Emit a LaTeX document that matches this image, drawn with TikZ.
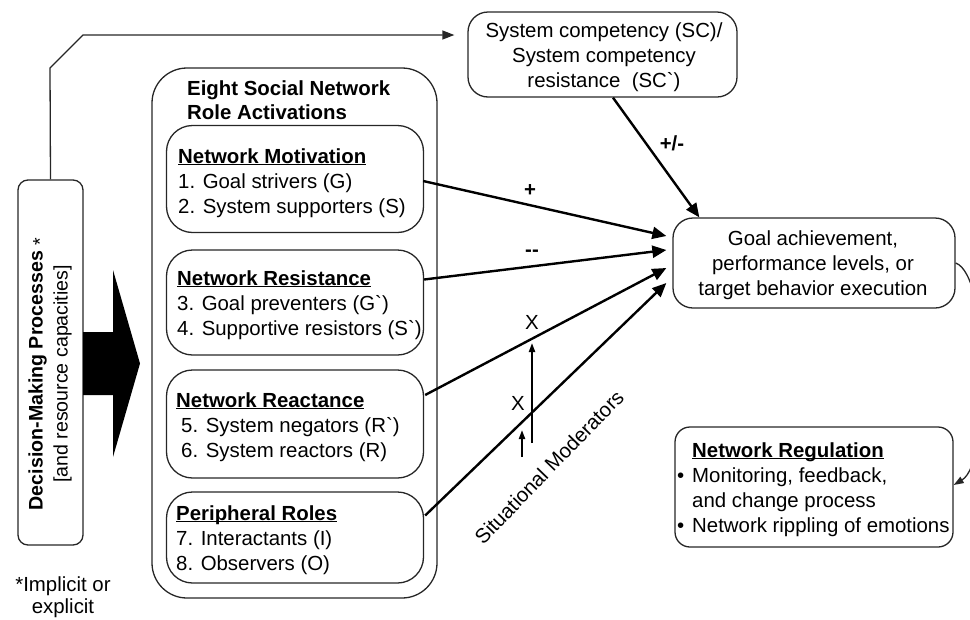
\documentclass[tikz,border=0pt]{standalone}
\usepackage{fontspec}
\setmainfont{Liberation Sans}
\usetikzlibrary{arrows.meta,calc}
\newcommand\myul[1]{\setbox0\hbox{#1}\rlap{\rule[-2.2pt]{\wd0}{1.3pt}}\box0}
\begin{document}
\begin{tikzpicture}[x=1pt,y=-1pt,
  font=\fontsize{20.4}{25}\selectfont,
  box/.style={draw=black!85, line width=1.3pt, inner sep=0pt},
  txt/.style={inner sep=0pt, align=left},
  main/.style={line width=2.4pt, -{Triangle[length=14pt,width=12pt]}},
  modarr/.style={line width=2pt, -{Triangle[length=9pt,width=6pt]}},
  thinline/.style={line width=1.3pt, draw=black!85},
  lbl/.style={font=\fontsize{20.4}{25}\selectfont\bfseries, inner sep=0pt},
]
\useasboundingbox (0,0) rectangle (970,619);

% outer container
\node[box, rounded corners=35pt, minimum width=285pt, minimum height=530pt] (outer) at (294.5,333) {};
\node[txt, anchor=west, font=\fontsize{20.4}{24}\selectfont\bfseries] (title) at (187,100.5) {Eight Social Network\\Role Activations};

% role boxes
\node[box, rounded corners=26pt, minimum width=257pt, minimum height=107pt] (b1) at (295,179) {};
\node[box, rounded corners=26pt, minimum width=257pt, minimum height=105pt] (b2) at (295,302.5) {};
\node[box, rounded corners=26pt, minimum width=257pt, minimum height=108pt] (b3) at (295,424) {};
\node[box, rounded corners=26pt, minimum width=257pt, minimum height=91pt] (b4) at (295,537.5) {};

\node[txt, anchor=west] (b1t) at (178,183) {\textbf{\myul{Network Motivation}}\\1. Goal strivers (G)\\2. System supporters (S)};
\node[txt, anchor=west] (b2t) at (177,305) {\textbf{\myul{Network Resistance}}\\3. Goal preventers (G\textasciigrave)\\4. Supportive resistors (S\textasciigrave)};
\node[txt, anchor=west] (b3t) at (176,427) {\textbf{\myul{Network Reactance}}\\\hspace*{5pt}5. System negators (R\textasciigrave)\\\hspace*{5pt}6. System reactors (R)};
\node[txt, anchor=west] (b4t) at (176,540) {\textbf{\myul{Peripheral Roles}}\\7. Interactants (I)\\8. Observers (O)};

% decision box
\node[box, rounded corners=10pt, minimum width=65pt, minimum height=365pt] (dec) at (50.5,362.5) {};
\node[txt, align=center, rotate=90, font=\fontsize{19.6}{25}\selectfont] (dect) at (50,374) {\textbf{Decision-Making Processes} \raisebox{-4pt}{*}\\{}[and resource capacities]};
\node[txt, align=center, font=\fontsize{20.4}{22}\selectfont] (foot) at (63,597) {*Implicit or\\explicit};

% big arrow
\fill[black] (83,332) -- (113,332) -- (113,270) -- (140,363.5) -- (113,457) -- (113,395) -- (83,395) -- cycle;

% system competency
\node[box, rounded corners=20pt, minimum width=269pt, minimum height=85pt] (sc) at (602.5,54.5) {};
\node[txt, align=center] (sct) at (604,57) {System competency (SC)/\\System competency\\resistance\ \ (SC\textasciigrave)};

% goal box
\node[box, rounded corners=20pt, minimum width=282pt, minimum height=90pt] (goal) at (814,263) {};
\node[txt, align=center] (goalt) at (813,265) {Goal achievement,\\performance levels, or\\target behavior execution};

% network regulation
\node[box, rounded corners=15pt, minimum width=278pt, minimum height=120pt] (reg) at (814,487) {};
\node[txt, anchor=west] (regt) at (677,489.5) {\hspace*{15pt}\textbf{\myul{Network Regulation}}\\\makebox[15pt][l]{\textbullet}Monitoring, feedback,\\\hspace*{15pt}and change process\\\makebox[15pt][l]{\textbullet}Network rippling of emotions};

% top connector
\coordinate (topc) at ($(sc.west)+(-13,-19.5)$);
\draw[thinline, -{Triangle[length=12pt,width=9pt]}] (dec.north) -- (50,68) -- (83,35) -- (topc);

% main arrows
\draw[main] ($(sc.south)+(10.5,0)$) -- ($(goal.north west)+(27,0)$);
\node[lbl] (lpm) at (672,143) {+/-};
\draw[main] ($(b1.east)+(-1,2)$) -- ($(goal.west)+(-6,-27)$);
\node[lbl] (lp) at (530,191) {+};
\draw[main] ($(b2.east)+(0,-23)$) -- ($(goal.west)+(-6,-13)$);
\node[lbl] (lm) at (532,253) {\mbox{-}\mbox{-}};
\draw[main] ($(b3.east)+(1,-29)$) -- ($(goal.west)+(-6,5)$);
\draw[main] ($(b4.east)+(1,-22)$) -- ($(goal.west)+(-6,20)$);

% moderators
\node[txt] (x1) at (532,322) {X};
\node[txt] (x2) at (518,403) {X};
\coordinate (m1s) at (532,443);
\coordinate (m1e) at (532,343);
\coordinate (m2s) at (522,457);
\coordinate (m2e) at (522,430);
\draw[modarr] (m1s) -- (m1e);
\draw[modarr] (m2s) -- (m2e);
\node[txt, rotate=46] (sitm) at (549,467) {Situational Moderators};

% feedback curve
\draw[thinline, -{Triangle[length=10pt,width=7pt]}] (goal.east) .. controls (990,275) and (992,462) .. ($(reg.east)+(0,-2)$);
\end{tikzpicture}
\end{document}
